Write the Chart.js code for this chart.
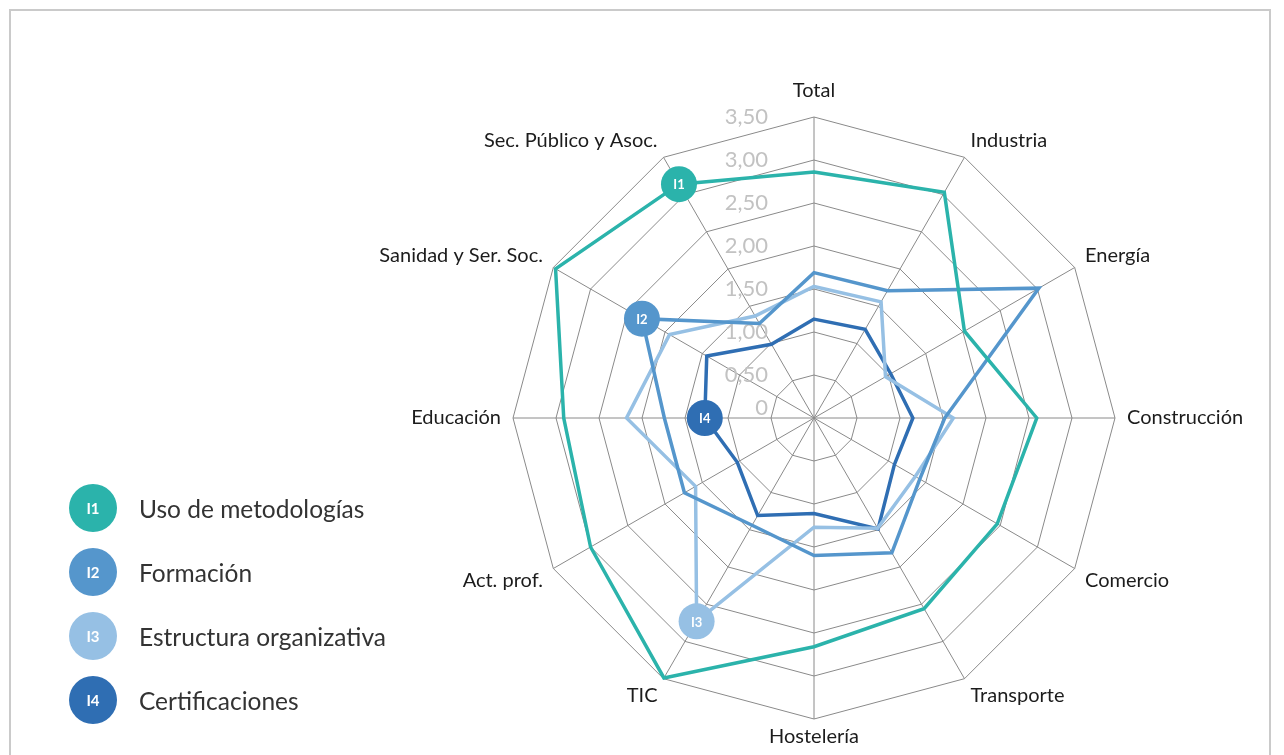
<!DOCTYPE html>
<html>
<head>
<meta charset="utf-8">
<script src="https://cdn.jsdelivr.net/npm/chart.js@4.4.1/dist/chart.umd.min.js"></script>
<style>
  html, body { margin: 0; padding: 0; background: #fff; }
  body { width: 1284px; height: 755px; position: relative; overflow: hidden; font-family: Lato, sans-serif; }
  #frame { position: absolute; left: 9px; top: 9px; width: 1262px; height: 800px; border: 2px solid #cacaca; box-sizing: border-box; }
  #wrap { position: absolute; left: 0; top: 0; width: 1284px; height: 755px; }
  #legend { position: absolute; left: 69px; top: 484px; }
  .item { display: flex; align-items: center; height: 48px; margin-bottom: 16px; }
  .dot { width: 48px; height: 48px; border-radius: 50%; color: #fff; font-weight: bold; font-size: 15px;
         display: flex; align-items: center; justify-content: center; }
  .txt { margin-left: 22px; font-size: 24.5px; color: #333; }
</style>
</head>
<body>
<div id="frame"></div>
<div id="wrap"><canvas id="radar" width="1284" height="755"></canvas></div>
<div id="legend"></div>
<script>
// sectors, clockwise from the top
var categories = ['Total', 'Industria', 'Energía', 'Construcción', 'Comercio', 'Transporte',
                  'Hostelería', 'TIC', 'Act. prof.', 'Educación', 'Sanidad y Ser. Soc.', 'Sec. Público y Asoc.'];

var seriesNames = ['Uso de metodologías', 'Formación', 'Estructura organizativa', 'Certificaciones'];
var seriesTags = ['I1', 'I2', 'I3', 'I4'];
var seriesColors = ['#2bb3ab', '#5596cc', '#96c0e4', '#2f6eb3'];

var usoMetodologias = [2.86, 3.03, 2.02, 2.59, 2.46, 2.56, 2.66, 3.49, 3.00, 2.91, 3.47, 3.14];
var formacion       = [1.69, 1.71, 3.02, 1.52, 1.42, 1.81, 1.60, 1.44, 1.74, 1.74, 2.31, 1.27];
var estructura      = [1.53, 1.56, 0.96, 1.62, 1.36, 1.48, 1.27, 2.73, 1.59, 2.18, 1.94, 1.37];
var certificaciones = [1.15, 1.19, 1.03, 1.15, 1.08, 1.49, 1.11, 1.31, 1.03, 1.27, 1.44, 0.99];

// which sector carries the tag bubble of each series
var tagIndex = [11, 10, 7, 9];

var tickLabels = ['0', '0,50', '1,00', '1,50', '2,00', '2,50', '3,00', '3,50'];

var allSeries = [usoMetodologias, formacion, estructura, certificaciones];

// html legend
var legendHtml = '';
seriesNames.forEach(function(name, i) {
    legendHtml += '<div class="item"><div class="dot" style="background:' + seriesColors[i] + '">' +
        seriesTags[i] + '</div><div class="txt">' + name + '</div></div>';
});
document.getElementById('legend').innerHTML = legendHtml;

var datasets = allSeries.map(function(values, i) {
    return {
        label: seriesNames[i],
        data: values,
        borderColor: seriesColors[i],
        backgroundColor: seriesColors[i],
        borderWidth: 3.5,
        fill: false,
        tension: 0,
        pointBorderWidth: 0,
        pointRadius: function(ctx) { return ctx.dataIndex === tagIndex[i] ? 18 : 0; },
        pointBackgroundColor: seriesColors[i]
    };
});

// tick values drawn to the left of the vertical axis
var tickPlugin = {
    id: 'sideTicks',
    beforeDatasetsDraw: function(chart) {
        var scale = chart.scales.r;
        var ctx = chart.ctx;
        ctx.save();
        ctx.font = '22px Lato';
        ctx.fillStyle = '#c2c2c2';
        ctx.textAlign = 'right';
        ctx.textBaseline = 'middle';
        scale.ticks.forEach(function(t) {
            var d = scale.getDistanceFromCenterForValue(t.value);
            ctx.fillText(t.label, scale.xCenter - 46, scale.yCenter - Math.max(d, 10));
        });
        ctx.restore();
    }
};

// white tag text inside the bubbles
var tagPlugin = {
    id: 'tags',
    afterDatasetsDraw: function(chart) {
        var ctx = chart.ctx;
        ctx.save();
        ctx.font = 'bold 13px Lato';
        ctx.fillStyle = '#fff';
        ctx.textAlign = 'center';
        ctx.textBaseline = 'middle';
        chart.data.datasets.forEach(function(ds, i) {
            var pt = chart.getDatasetMeta(i).data[tagIndex[i]];
            ctx.fillText(seriesTags[i], pt.x, pt.y + 1);
        });
        ctx.restore();
    }
};

new Chart(document.getElementById('radar'), {
    type: 'radar',
    data: { labels: categories, datasets: datasets },
    options: {
        responsive: false,
        animation: false,
        layout: { padding: { top: 81, bottom: 8, left: 348, right: 4 } },
        plugins: { legend: { display: false }, tooltip: { enabled: false } },
        scales: {
            r: {
                min: 0,
                max: 3.5,
                ticks: {
                    display: false,
                    stepSize: 0.5,
                    callback: function(v, i) { return tickLabels[i]; }
                },
                grid: { color: '#8a8a8a', lineWidth: 1 },
                angleLines: { color: '#8a8a8a', lineWidth: 1 },
                pointLabels: {
                    padding: function(ctx) { return ctx.index === 0 ? 20 : 12; },
                    color: '#1c1c1c',
                    font: { family: 'Lato', size: 20, lineHeight: 0.6 }
                }
            }
        }
    },
    plugins: [tickPlugin, tagPlugin]
});
</script>
</body>
</html>
